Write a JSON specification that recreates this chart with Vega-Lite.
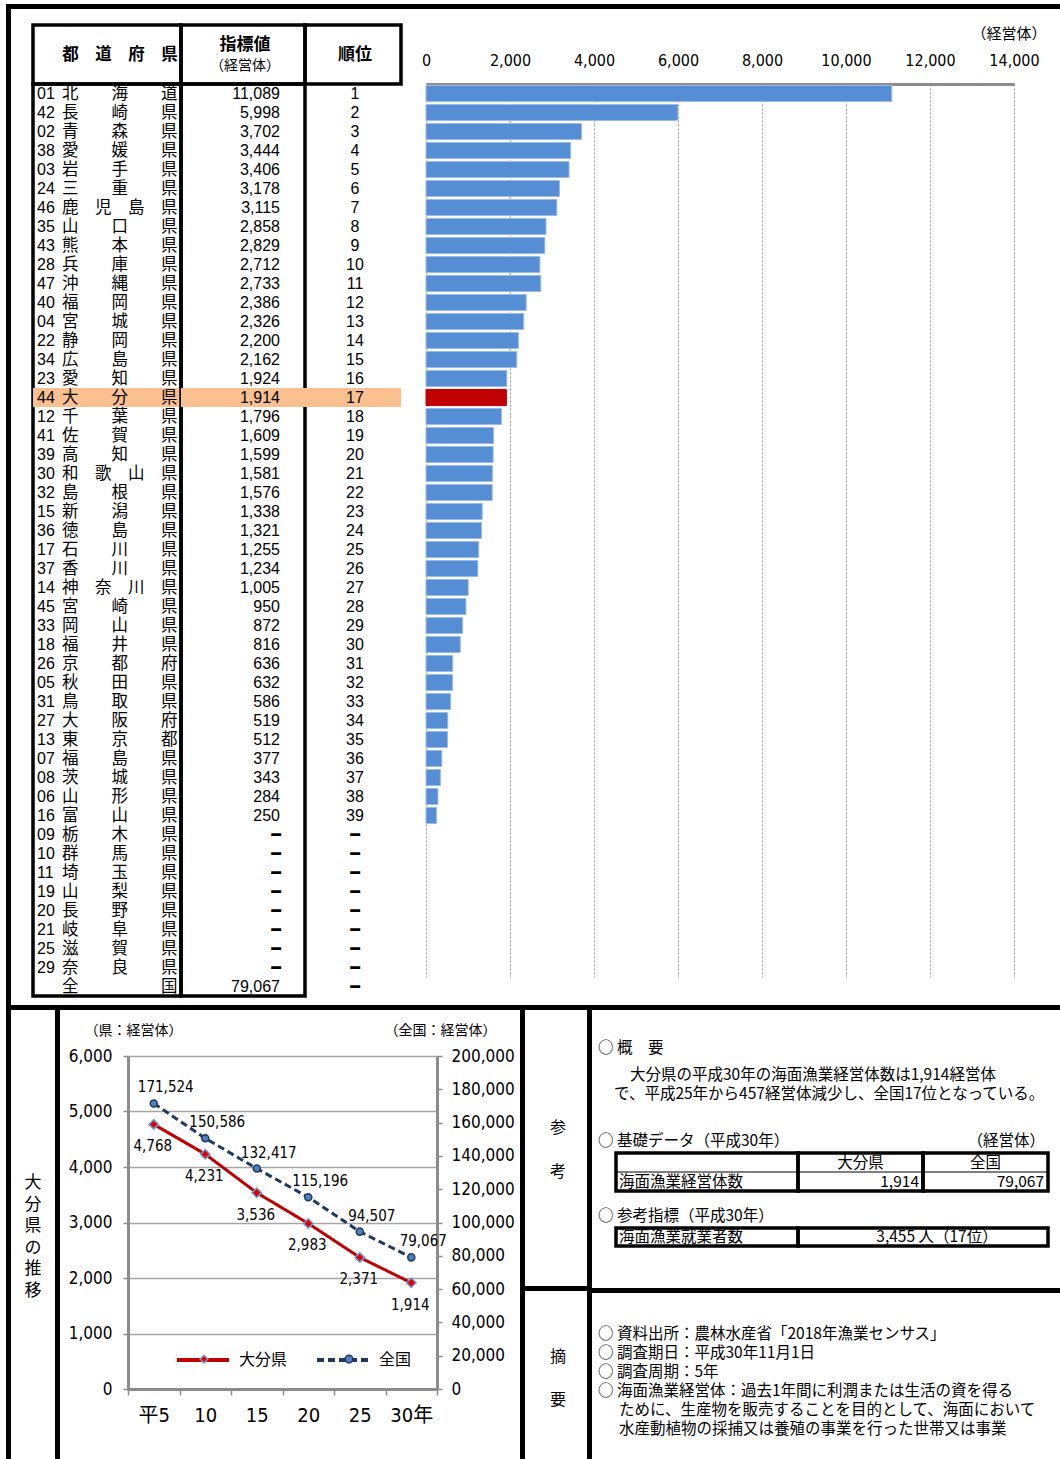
{
"$schema": "https://vega.github.io/schema/vega-lite/v6.json",
"padding": {"left": 6, "top": 4, "right": 0, "bottom": 0},
"background": "white",
"spacing": 0,
"config": {
  "view": {"stroke": null},
  "concat": {"spacing": 0},
  "text": {"font": "Noto Sans CJK JP", "fontSize": 15.5, "color": "black"}
},
"datasets": {
  "pref": [
    {"code": "01", "name": "北海道", "value": 11089, "rank": 1},
    {"code": "42", "name": "長崎県", "value": 5998, "rank": 2},
    {"code": "02", "name": "青森県", "value": 3702, "rank": 3},
    {"code": "38", "name": "愛媛県", "value": 3444, "rank": 4},
    {"code": "03", "name": "岩手県", "value": 3406, "rank": 5},
    {"code": "24", "name": "三重県", "value": 3178, "rank": 6},
    {"code": "46", "name": "鹿児島県", "value": 3115, "rank": 7},
    {"code": "35", "name": "山口県", "value": 2858, "rank": 8},
    {"code": "43", "name": "熊本県", "value": 2829, "rank": 9},
    {"code": "28", "name": "兵庫県", "value": 2712, "rank": 10},
    {"code": "47", "name": "沖縄県", "value": 2733, "rank": 11},
    {"code": "40", "name": "福岡県", "value": 2386, "rank": 12},
    {"code": "04", "name": "宮城県", "value": 2326, "rank": 13},
    {"code": "22", "name": "静岡県", "value": 2200, "rank": 14},
    {"code": "34", "name": "広島県", "value": 2162, "rank": 15},
    {"code": "23", "name": "愛知県", "value": 1924, "rank": 16},
    {"code": "44", "name": "大分県", "value": 1914, "rank": 17},
    {"code": "12", "name": "千葉県", "value": 1796, "rank": 18},
    {"code": "41", "name": "佐賀県", "value": 1609, "rank": 19},
    {"code": "39", "name": "高知県", "value": 1599, "rank": 20},
    {"code": "30", "name": "和歌山県", "value": 1581, "rank": 21},
    {"code": "32", "name": "島根県", "value": 1576, "rank": 22},
    {"code": "15", "name": "新潟県", "value": 1338, "rank": 23},
    {"code": "36", "name": "徳島県", "value": 1321, "rank": 24},
    {"code": "17", "name": "石川県", "value": 1255, "rank": 25},
    {"code": "37", "name": "香川県", "value": 1234, "rank": 26},
    {"code": "14", "name": "神奈川県", "value": 1005, "rank": 27},
    {"code": "45", "name": "宮崎県", "value": 950, "rank": 28},
    {"code": "33", "name": "岡山県", "value": 872, "rank": 29},
    {"code": "18", "name": "福井県", "value": 816, "rank": 30},
    {"code": "26", "name": "京都府", "value": 636, "rank": 31},
    {"code": "05", "name": "秋田県", "value": 632, "rank": 32},
    {"code": "31", "name": "鳥取県", "value": 586, "rank": 33},
    {"code": "27", "name": "大阪府", "value": 519, "rank": 34},
    {"code": "13", "name": "東京都", "value": 512, "rank": 35},
    {"code": "07", "name": "福島県", "value": 377, "rank": 36},
    {"code": "08", "name": "茨城県", "value": 343, "rank": 37},
    {"code": "06", "name": "山形県", "value": 284, "rank": 38},
    {"code": "16", "name": "富山県", "value": 250, "rank": 39},
    {"code": "09", "name": "栃木県", "value": null, "rank": null},
    {"code": "10", "name": "群馬県", "value": null, "rank": null},
    {"code": "11", "name": "埼玉県", "value": null, "rank": null},
    {"code": "19", "name": "山梨県", "value": null, "rank": null},
    {"code": "20", "name": "長野県", "value": null, "rank": null},
    {"code": "21", "name": "岐阜県", "value": null, "rank": null},
    {"code": "25", "name": "滋賀県", "value": null, "rank": null},
    {"code": "29", "name": "奈良県", "value": null, "rank": null},
    {"code": "", "name": "全国", "value": 79067, "rank": null}
  ],
  "trend": [
    {"year": "平5", "series": "大分県", "value": 4768},
    {"year": "10", "series": "大分県", "value": 4231},
    {"year": "15", "series": "大分県", "value": 3536},
    {"year": "20", "series": "大分県", "value": 2983},
    {"year": "25", "series": "大分県", "value": 2371},
    {"year": "30年", "series": "大分県", "value": 1914},
    {"year": "平5", "series": "全国", "value": 171524},
    {"year": "10", "series": "全国", "value": 150586},
    {"year": "15", "series": "全国", "value": 132417},
    {"year": "20", "series": "全国", "value": 115196},
    {"year": "25", "series": "全国", "value": 94507},
    {"year": "30年", "series": "全国", "value": 79067}
  ]
},
"hconcat": [
  {"width": 5, "height": 1455, "view": {"fill": "black", "stroke": null}, "data": {"values": []}, "mark": "point"},
  {"spacing": 0, "vconcat": [
    {"width": 1049, "height": 5, "view": {"fill": "black", "stroke": null}, "data": {"values": []}, "mark": "point"},
    {"columns": 6, "spacing": 0, "bounds": "flush", "align": "each", "concat": [
      {"width": 22, "height": 16, "data": {"values": []}, "mark": "point"},
      {"width": 148, "height": 16, "data": {"values": []}, "mark": "point"},
      {"width": 124, "height": 16, "data": {"values": []}, "mark": "point"},
      {"width": 96, "height": 16, "data": {"values": []}, "mark": "point"},
      {"width": 25, "height": 16, "data": {"values": []}, "mark": "point"},
      {"width": 588, "height": 16, "data": {"values": []}, "mark": "point"},

      {"width": 22, "height": 59, "data": {"values": []}, "mark": "point"},
      {"width": 148, "height": 59, "view": {"stroke": "black", "strokeWidth": 3.5}, "data": {"values": [{}]},
       "mark": {"type": "text", "text": "都　道　府　県", "fontSize": 16.5, "fontWeight": "bold", "dx": 13}},
      {"width": 124, "height": 59, "view": {"stroke": "black", "strokeWidth": 3.5}, "data": {"values": [{}]},
       "layer": [
         {"mark": {"type": "text", "text": "指標値", "fontSize": 17, "fontWeight": "bold", "dy": -10, "dx": 2}},
         {"mark": {"type": "text", "text": "（経営体）", "fontSize": 14, "dy": 11, "dx": 2}}
       ]},
      {"width": 96, "height": 59, "view": {"stroke": "black", "strokeWidth": 3.5}, "data": {"values": [{}]},
       "mark": {"type": "text", "text": "順位", "fontSize": 17, "fontWeight": "bold", "dx": 2}},
      {"width": 25, "height": 59, "data": {"values": []}, "mark": "point"},
      {"width": 588, "height": 59, "data": {"values": []}, "mark": "point"},

      {"width": 22, "height": 912, "data": {"values": []}, "mark": "point"},
      {"width": 148, "height": 912, "view": {"stroke": "black", "strokeWidth": 3.5},
       "data": {"name": "pref"},
       "transform": [{"calculate": "join(split(datum.name, ''), length(datum.name) == 4 ? '　' : (length(datum.name) == 3 ? '　　' : '　　　　　'))", "as": "disp"}],
       "encoding": {"y": {"field": "name", "type": "nominal", "sort": null, "scale": {"paddingInner": 0, "paddingOuter": 0}, "axis": null}},
       "layer": [
         {"mark": {"type": "rect"},
          "encoding": {"color": {"condition": {"test": "datum.name === '大分県'", "value": "#FAC090"}, "value": "transparent"}}},
         {"mark": {"type": "text", "align": "left", "dx": -70, "fontSize": 16, "font": "Liberation Sans"}, "encoding": {"text": {"field": "code", "type": "nominal"}}},
         {"mark": {"type": "text", "align": "left", "dx": -45, "fontSize": 16.5, "font": "Noto Sans CJK JP"}, "encoding": {"text": {"field": "disp", "type": "nominal"}}}
       ]},
      {"width": 124, "height": 912, "view": {"stroke": "black", "strokeWidth": 3.5},
       "data": {"name": "pref"},
       "encoding": {"y": {"field": "name", "type": "nominal", "sort": null, "scale": {"paddingInner": 0, "paddingOuter": 0}, "axis": null}},
       "layer": [
         {"mark": {"type": "rect"},
          "encoding": {"color": {"condition": {"test": "datum.name === '大分県'", "value": "#FAC090"}, "value": "transparent"}}},
         {"transform": [{"filter": "isValid(datum.value)"}],
          "mark": {"type": "text", "align": "right", "dx": 37, "fontSize": 16, "font": "Liberation Sans"},
          "encoding": {"text": {"field": "value", "type": "quantitative", "format": ","}}},
         {"transform": [{"filter": "!isValid(datum.value)"}],
          "mark": {"type": "text", "text": "━", "align": "right", "dx": 38, "fontSize": 16, "fontWeight": "bold", "font": "DejaVu Sans"}}
       ]},
      {"width": 96, "height": 912,
       "data": {"name": "pref"},
       "encoding": {"y": {"field": "name", "type": "nominal", "sort": null, "scale": {"paddingInner": 0, "paddingOuter": 0}, "axis": null}},
       "layer": [
         {"mark": {"type": "rect"},
          "encoding": {"color": {"condition": {"test": "datum.name === '大分県'", "value": "#FAC090"}, "value": "transparent"}}},
         {"transform": [{"filter": "isValid(datum.rank)"}],
          "mark": {"type": "text", "align": "center", "dx": 2, "fontSize": 16, "font": "Liberation Sans"},
          "encoding": {"text": {"field": "rank", "type": "quantitative"}}},
         {"transform": [{"filter": "!isValid(datum.rank)"}],
          "mark": {"type": "text", "text": "━", "align": "center", "dx": 2, "fontSize": 16, "fontWeight": "bold", "font": "DejaVu Sans"}}
       ]},
      {"width": 25, "height": 912, "data": {"values": []}, "mark": "point"},
      {"width": 588, "height": 893,
       "data": {"name": "pref"},
       "transform": [{"filter": "datum.name !== '全国'"}],
       "encoding": {"y": {"field": "name", "type": "nominal", "sort": null, "scale": {"paddingInner": 0.15, "paddingOuter": 0.075}, "axis": null}},
       "layer": [
         {"mark": {"type": "point", "opacity": 0}},
         {"mark": {"type": "bar", "strokeWidth": 1},
          "encoding": {
            "x": {"field": "value", "type": "quantitative",
                  "scale": {"domain": [0, 14000], "nice": false},
                  "axis": {"orient": "top", "values": [0, 2000, 4000, 6000, 8000, 10000, 12000, 14000], "format": ",.0f",
                           "grid": true, "gridColor": "#A0A0A0", "gridDash": [2, 2], "gridWidth": 1,
                           "domainColor": "#8C8C8C", "domainWidth": 3, "ticks": false, "tickSize": 0,
                           "labelFont": "Liberation Sans Narrow, DejaVu Sans Condensed, sans-serif", "labelFontSize": 16,
                           "labelBaseline": "middle", "labelPadding": 24, "labelColor": "black", "labelFlush": false,
                           "title": "（経営体）", "titleFont": "Noto Sans CJK JP", "titleFontSize": 15, "titleFontWeight": "normal",
                           "titleColor": "black", "titleX": 620, "titleY": -51, "titleAlign": "right", "titleBaseline": "middle"}},
            "color": {"condition": {"test": "datum.name === '大分県'", "value": "#C00000"}, "value": "#558ED5"},
            "stroke": {"condition": {"test": "datum.name === '大分県'", "value": "#C00000"}, "value": "#9DBBE3"}
          }}
       ]},

      {"width": 22, "height": 9, "data": {"values": []}, "mark": "point"}
    ]},
    {"width": 1049, "height": 5, "view": {"fill": "black", "stroke": null}, "data": {"values": []}, "mark": "point"},
    {"spacing": 0, "hconcat": [
      {"width": 44, "height": 449, "data": {"values": [{}]},
       "mark": {"type": "text", "text": ["大", "分", "県", "の", "推", "移"], "fontSize": 17, "lineHeight": 21.5, "dy": -51.5}},
      {"width": 5, "height": 449, "view": {"fill": "black", "stroke": null}, "data": {"values": []}, "mark": "point"},
      {"spacing": 0, "vconcat": [
        {"width": 460, "height": 13, "data": {"values": []}, "mark": "point"},
        {"spacing": 0, "bounds": "flush",
         "resolve": {"scale": {"color": "independent", "strokeDash": "independent", "shape": "independent", "fill": "independent", "stroke": "independent"}},
         "hconcat": [
          {"width": 68, "height": 403, "data": {"values": []}, "mark": "point"},
          {"width": 309, "height": 333,
           "data": {"name": "trend"},
           "transform": [{"calculate": "datum.series", "as": "marker"}],
           "encoding": {
             "x": {"field": "year", "type": "ordinal", "sort": null, "bandPosition": 0.5,
                   "scale": {"type": "band", "paddingInner": 0, "paddingOuter": 0},
                   "axis": {"title": null, "labelAngle": 0, "tickBand": "extent", "grid": false,
                            "domainColor": "#8C8C8C", "domainWidth": 3, "tickColor": "#8C8C8C", "tickWidth": 1.5, "tickSize": 6,
                            "labelFont": "Liberation Sans Narrow, DejaVu Sans Condensed, Noto Sans CJK JP, sans-serif",
                            "labelFontSize": 20, "labelPadding": 10, "labelColor": "black"}}
           },
           "layer": [
             {"transform": [{"filter": "datum.series === '大分県'"}],
              "encoding": {"y": {"field": "value", "type": "quantitative", "scale": {"domain": [0, 6000], "nice": false},
                 "axis": {"orient": "left", "values": [0, 1000, 2000, 3000, 4000, 5000, 6000], "format": ",.0f",
                          "grid": true, "gridColor": "#A6A6A6", "gridWidth": 1.5,
                          "domainColor": "#8C8C8C", "domainWidth": 3, "tickColor": "#8C8C8C", "tickWidth": 1.5, "tickSize": 5,
                          "labelFont": "Liberation Sans Narrow, DejaVu Sans Condensed, sans-serif", "labelFontSize": 17,
                          "labelPadding": 11, "labelColor": "black",
                          "title": "（県：経営体）", "titleAngle": 0, "titleX": 5, "titleY": -26, "titleAlign": "center",
                          "titleBaseline": "middle", "titleFont": "Noto Sans CJK JP", "titleFontSize": 14,
                          "titleFontWeight": "normal", "titleColor": "black"}}},
              "layer": [
                {"mark": {"type": "line", "strokeWidth": 3},
                 "encoding": {
                   "color": {"field": "series", "type": "nominal", "scale": {"domain": ["大分県", "全国"], "range": ["#C00000", "#1F3864"]},
                             "legend": {"orient": "none", "legendX": 47, "legendY": 276, "direction": "horizontal", "title": null,
                                        "symbolType": "stroke", "symbolStrokeWidth": 4, "symbolSize": 2700,
                                        "labelFont": "Noto Sans CJK JP", "labelFontSize": 16, "labelColor": "black",
                                        "columnPadding": 21, "labelOffset": 8}},
                   "strokeDash": {"field": "series", "type": "nominal", "scale": {"domain": ["大分県", "全国"], "range": [[1, 0], [7, 4]]},
                             "legend": {"orient": "none", "legendX": 47, "legendY": 276, "direction": "horizontal", "title": null,
                                        "symbolType": "stroke", "symbolStrokeWidth": 4, "symbolSize": 2700,
                                        "labelFont": "Noto Sans CJK JP", "labelFontSize": 16, "labelColor": "black",
                                        "columnPadding": 21, "labelOffset": 8}}
                 }},
                {"mark": {"type": "point", "filled": true, "strokeWidth": 1.5, "size": 90, "opacity": 1},
                 "encoding": {
                   "shape": {"field": "marker", "type": "nominal", "sort": "descending", "scale": {"range": ["diamond", "circle"]},
                             "legend": {"orient": "none", "legendX": 71, "legendY": 298, "direction": "horizontal", "title": null,
                                        "labelExpr": "''", "labelFontSize": 1, "labelOffset": 0, "columnPadding": 131,
                                        "symbolSize": 60, "symbolStrokeWidth": 1.5}},
                   "fill": {"field": "marker", "type": "nominal", "sort": "descending", "scale": {"range": ["#E00000", "#4F81BD"]},
                             "legend": {"orient": "none", "legendX": 71, "legendY": 298, "direction": "horizontal", "title": null,
                                        "labelExpr": "''", "labelFontSize": 1, "labelOffset": 0, "columnPadding": 131,
                                        "symbolSize": 60, "symbolStrokeWidth": 1.5}},
                   "stroke": {"field": "marker", "type": "nominal", "sort": "descending", "scale": {"range": ["#6F9BD6", "#1F3864"]},
                             "legend": {"orient": "none", "legendX": 71, "legendY": 298, "direction": "horizontal", "title": null,
                                        "labelExpr": "''", "labelFontSize": 1, "labelOffset": 0, "columnPadding": 131,
                                        "symbolSize": 60, "symbolStrokeWidth": 1.5}}
                 }},
                {"mark": {"type": "text", "font": "Liberation Sans Narrow, DejaVu Sans Condensed, sans-serif", "fontSize": 15, "dx": -1, "dy": 22},
                 "encoding": {"text": {"field": "value", "type": "quantitative", "format": ","}}}
              ]},
             {"transform": [{"filter": "datum.series === '全国'"}],
              "encoding": {"y": {"field": "value", "type": "quantitative", "scale": {"domain": [0, 200000], "nice": false},
                 "axis": {"orient": "right", "values": [0, 20000, 40000, 60000, 80000, 100000, 120000, 140000, 160000, 180000, 200000], "format": ",.0f",
                          "grid": false,
                          "domainColor": "#8C8C8C", "domainWidth": 3, "tickColor": "#8C8C8C", "tickWidth": 1.5, "tickSize": 5,
                          "labelFont": "Liberation Sans Narrow, DejaVu Sans Condensed, sans-serif", "labelFontSize": 17,
                          "labelPadding": 9, "labelColor": "black",
                          "title": "（全国：経営体）", "titleAngle": 0, "titleX": 3, "titleY": -26, "titleAlign": "center",
                          "titleBaseline": "middle", "titleFont": "Noto Sans CJK JP", "titleFontSize": 14,
                          "titleFontWeight": "normal", "titleColor": "black"}}},
              "layer": [
                {"mark": {"type": "line", "strokeWidth": 3},
                 "encoding": {
                   "color": {"field": "series", "type": "nominal", "scale": {"domain": ["大分県", "全国"], "range": ["#C00000", "#1F3864"]},
                             "legend": {"orient": "none", "legendX": 47, "legendY": 276, "direction": "horizontal", "title": null,
                                        "symbolType": "stroke", "symbolStrokeWidth": 4, "symbolSize": 2700,
                                        "labelFont": "Noto Sans CJK JP", "labelFontSize": 16, "labelColor": "black",
                                        "columnPadding": 21, "labelOffset": 8}},
                   "strokeDash": {"field": "series", "type": "nominal", "scale": {"domain": ["大分県", "全国"], "range": [[1, 0], [7, 4]]},
                             "legend": {"orient": "none", "legendX": 47, "legendY": 276, "direction": "horizontal", "title": null,
                                        "symbolType": "stroke", "symbolStrokeWidth": 4, "symbolSize": 2700,
                                        "labelFont": "Noto Sans CJK JP", "labelFontSize": 16, "labelColor": "black",
                                        "columnPadding": 21, "labelOffset": 8}}
                 }},
                {"mark": {"type": "point", "filled": true, "strokeWidth": 1.5, "size": 50, "opacity": 1},
                 "encoding": {
                   "shape": {"field": "marker", "type": "nominal", "sort": "descending", "scale": {"range": ["diamond", "circle"]},
                             "legend": {"orient": "none", "legendX": 71, "legendY": 298, "direction": "horizontal", "title": null,
                                        "labelExpr": "''", "labelFontSize": 1, "labelOffset": 0, "columnPadding": 131,
                                        "symbolSize": 60, "symbolStrokeWidth": 1.5}},
                   "fill": {"field": "marker", "type": "nominal", "sort": "descending", "scale": {"range": ["#E00000", "#4F81BD"]},
                             "legend": {"orient": "none", "legendX": 71, "legendY": 298, "direction": "horizontal", "title": null,
                                        "labelExpr": "''", "labelFontSize": 1, "labelOffset": 0, "columnPadding": 131,
                                        "symbolSize": 60, "symbolStrokeWidth": 1.5}},
                   "stroke": {"field": "marker", "type": "nominal", "sort": "descending", "scale": {"range": ["#6F9BD6", "#1F3864"]},
                             "legend": {"orient": "none", "legendX": 71, "legendY": 298, "direction": "horizontal", "title": null,
                                        "labelExpr": "''", "labelFontSize": 1, "labelOffset": 0, "columnPadding": 131,
                                        "symbolSize": 60, "symbolStrokeWidth": 1.5}}
                 }},
                {"mark": {"type": "text", "font": "Liberation Sans Narrow, DejaVu Sans Condensed, sans-serif", "fontSize": 15, "dx": 12, "dy": -16},
                 "encoding": {"text": {"field": "value", "type": "quantitative", "format": ","}}}
              ]}
           ],
           "resolve": {"scale": {"y": "independent"}}},
          {"width": 83, "height": 403, "data": {"values": []}, "mark": "point"}
        ]}
      ]},
      {"width": 5, "height": 449, "view": {"fill": "black", "stroke": null}, "data": {"values": []}, "mark": "point"},
      {"spacing": 0, "bounds": "flush", "vconcat": [
        {"width": 62, "height": 276, "data": {"values": [{}]},
         "mark": {"type": "text", "text": ["参", "考"], "fontSize": 16, "lineHeight": 44, "dy": -20, "dx": 2}},
        {"width": 62, "height": 5, "view": {"fill": "black", "stroke": null}, "data": {"values": []}, "mark": "point"},
        {"width": 62, "height": 168, "data": {"values": [{}]},
         "mark": {"type": "text", "text": ["摘", "要"], "fontSize": 16, "lineHeight": 43, "dy": -18, "dx": 2}}
      ]},
      {"width": 5, "height": 449, "view": {"fill": "black", "stroke": null}, "data": {"values": []}, "mark": "point"},
      {"spacing": 0, "vconcat": [
        {"spacing": 0, "vconcat": [
          {"width": 468, "height": 28, "data": {"values": []}, "mark": "point"},
          {"width": 468, "height": 20, "data": {"values": [{}]}, "mark": {"type": "text", "text": "○ 概　要", "align": "left", "dx": -228}},
          {"width": 468, "height": 7, "data": {"values": []}, "mark": "point"},
          {"width": 468, "height": 20, "data": {"values": [{}]}, "mark": {"type": "text", "text": "大分県の平成30年の海面漁業経営体数は1,914経営体", "align": "left", "dx": -196}},
          {"width": 468, "height": 18, "data": {"values": [{}]}, "mark": {"type": "text", "text": "で、平成25年から457経営体減少し、全国17位となっている。", "align": "left", "dx": -212}},
          {"width": 468, "height": 28, "data": {"values": []}, "mark": "point"},
          {"width": 468, "height": 20, "data": {"values": [{}]},
           "layer": [
             {"mark": {"type": "text", "text": "○ 基礎データ（平成30年）", "align": "left", "dx": -228}},
             {"mark": {"type": "text", "text": "（経営体）", "align": "right", "dx": 219}}
           ]},
          {"spacing": 0, "bounds": "flush", "hconcat": [
            {"width": 24, "height": 38, "data": {"values": []}, "mark": "point"},
            {"width": 182, "height": 38, "view": {"stroke": "black", "strokeWidth": 3.5},
             "data": {"values": [{"r": "h", "t": ""}, {"r": "v", "t": "海面漁業経営体数"}]},
             "encoding": {"y": {"field": "r", "type": "nominal", "scale": {"domain": ["h", "v"], "paddingInner": 0, "paddingOuter": 0}, "axis": null}},
             "layer": [
               {"transform": [{"filter": "datum.r === 'v'"}], "mark": {"type": "rule", "color": "black", "strokeWidth": 1},
                "encoding": {"y": {"field": "r", "type": "nominal", "bandPosition": 0}}},
               {"mark": {"type": "text", "align": "left", "dx": -88}, "encoding": {"text": {"field": "t", "type": "nominal"}}}
             ]},
            {"width": 125, "height": 38, "view": {"stroke": "black", "strokeWidth": 3.5},
             "data": {"values": [{"r": "h", "t": "大分県"}, {"r": "v", "t": "1,914"}]},
             "encoding": {"y": {"field": "r", "type": "nominal", "scale": {"domain": ["h", "v"], "paddingInner": 0, "paddingOuter": 0}, "axis": null}},
             "layer": [
               {"transform": [{"filter": "datum.r === 'v'"}], "mark": {"type": "rule", "color": "black", "strokeWidth": 1},
                "encoding": {"y": {"field": "r", "type": "nominal", "bandPosition": 0}}},
               {"transform": [{"filter": "datum.r === 'h'"}], "mark": {"type": "text", "align": "center"}, "encoding": {"text": {"field": "t", "type": "nominal"}}},
               {"transform": [{"filter": "datum.r === 'v'"}], "mark": {"type": "text", "align": "right", "dx": 58.5}, "encoding": {"text": {"field": "t", "type": "nominal"}}}
             ]},
            {"width": 125, "height": 38, "view": {"stroke": "black", "strokeWidth": 3.5},
             "data": {"values": [{"r": "h", "t": "全国"}, {"r": "v", "t": "79,067"}]},
             "encoding": {"y": {"field": "r", "type": "nominal", "scale": {"domain": ["h", "v"], "paddingInner": 0, "paddingOuter": 0}, "axis": null}},
             "layer": [
               {"transform": [{"filter": "datum.r === 'v'"}], "mark": {"type": "rule", "color": "black", "strokeWidth": 1},
                "encoding": {"y": {"field": "r", "type": "nominal", "bandPosition": 0}}},
               {"transform": [{"filter": "datum.r === 'h'"}], "mark": {"type": "text", "align": "center"}, "encoding": {"text": {"field": "t", "type": "nominal"}}},
               {"transform": [{"filter": "datum.r === 'v'"}], "mark": {"type": "text", "align": "right", "dx": 58.5}, "encoding": {"text": {"field": "t", "type": "nominal"}}}
             ]}
          ]},
          {"width": 468, "height": 12.5, "data": {"values": []}, "mark": "point"},
          {"width": 468, "height": 20, "data": {"values": [{}]}, "mark": {"type": "text", "text": "○ 参考指標（平成30年）", "align": "left", "dx": -228}},
          {"spacing": 0, "bounds": "flush", "hconcat": [
            {"width": 24, "height": 18, "data": {"values": []}, "mark": "point"},
            {"width": 182, "height": 18, "view": {"stroke": "black", "strokeWidth": 3.5}, "data": {"values": [{}]},
             "mark": {"type": "text", "text": "海面漁業就業者数", "align": "left", "dx": -88}},
            {"width": 250, "height": 18, "view": {"stroke": "black", "strokeWidth": 3.5}, "data": {"values": [{}]},
             "mark": {"type": "text", "text": "3,455 人（17位）", "align": "center", "dx": 14}}
          ]},
          {"width": 468, "height": 39.5, "data": {"values": []}, "mark": "point"}
        ]},
        {"width": 468, "height": 5, "view": {"fill": "black", "stroke": null}, "data": {"values": []}, "mark": "point"},
        {"spacing": 0, "bounds": "flush", "vconcat": [
          {"width": 468, "height": 31, "data": {"values": []}, "mark": "point"},
          {"width": 468, "height": 114, "data": {"values": [{}]},
           "layer": [
             {"mark": {"type": "text", "align": "left", "dx": -228, "dy": -47, "lineHeight": 19,
                       "text": ["○ 資料出所：農林水産省「2018年漁業センサス」", "○ 調査期日：平成30年11月1日", "○ 調査周期：5年", "○ 海面漁業経営体：過去1年間に利潤または生活の資を得る"]}},
             {"mark": {"type": "text", "align": "left", "dx": -207, "dy": 29, "lineHeight": 19,
                       "text": ["ために、生産物を販売することを目的として、海面において", "水産動植物の採捕又は養殖の事業を行った世帯又は事業"]}}
           ]},
          {"width": 468, "height": 23, "data": {"values": []}, "mark": "point"}
        ]}
      ]}
    ]}
  ]}
]
}
